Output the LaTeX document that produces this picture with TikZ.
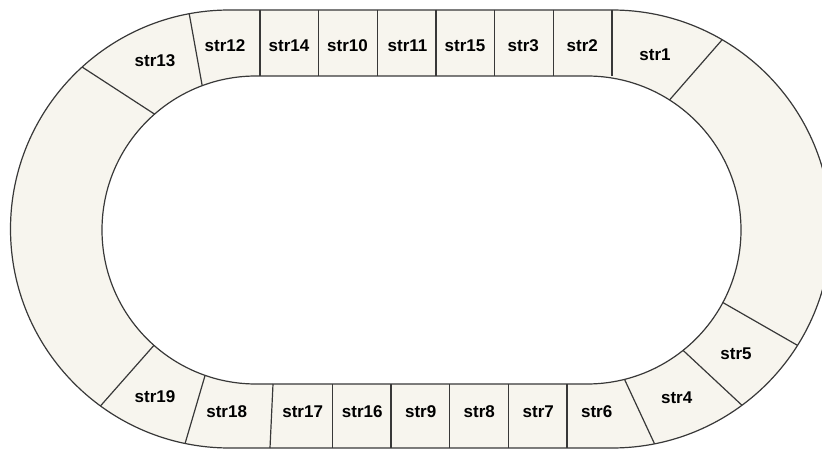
\documentclass[tikz,border=0pt]{standalone}
\usepackage{fontspec}
\setmainfont{Liberation Sans}
\usetikzlibrary{calc}
\definecolor{ringfill}{HTML}{F7F5EE}
\definecolor{ringline}{HTML}{383838}
\tikzset{
  ringedge/.style={draw=ringline, line width=1.2pt},
  divider/.style={draw=ringline, line width=1.2pt},
  seglabel/.style={font=\fontsize{17}{20}\selectfont\bfseries, text=black, inner sep=0pt}
}
\begin{document}
\begin{tikzpicture}[x=1pt,y=-1pt]
\useasboundingbox (0,0) rectangle (822,449);
\clip (0,0) rectangle (822,449);
% centres
\coordinate (OL) at (229.5,229);
\coordinate (OR) at (612,229);
\coordinate (IL) at (256,230);
\coordinate (IR) at (587,230);
% ring fill
\fill[ringfill, even odd rule]
  (229.5,10) -- (612,10) arc[start angle=-90,end angle=90,radius=219] -- (229.5,448) arc[start angle=90,end angle=270,radius=219] -- cycle
  (256,76) -- (587,76) arc[start angle=-90,end angle=90,radius=154] -- (256,384) arc[start angle=90,end angle=270,radius=154] -- cycle;
% outlines
\draw[ringedge] (229.5,10) -- (612,10) arc[start angle=-90,end angle=90,radius=219] -- (229.5,448) arc[start angle=90,end angle=270,radius=219] -- cycle;
\draw[ringedge] (256,76) -- (587,76) arc[start angle=-90,end angle=90,radius=154] -- (256,384) arc[start angle=90,end angle=270,radius=154] -- cycle;
% curved-part dividers
\coordinate (a1) at ($(OL)+(-100.6:219)$); \coordinate (b1) at ($(IL)+(-110.45:154)$);
\coordinate (a2) at ($(OL)+(-132.3:219)$); \coordinate (b2) at ($(IL)+(-131.2:154)$);
\coordinate (a3) at ($(OL)+(126.1:219)$);  \coordinate (b3) at ($(IL)+(131.5:154)$);
\coordinate (a4) at ($(OL)+(101.7:219)$);  \coordinate (b4) at ($(IL)+(109.3:154)$);
\coordinate (a5) at ($(OR)+(-59.8:219)$);  \coordinate (b5) at ($(IR)+(-57.6:154)$);
\coordinate (a6) at ($(OR)+(32.1:219)$);   \coordinate (b6) at ($(IR)+(28.1:154)$);
\coordinate (a7) at ($(OR)+(53.6:219)$);   \coordinate (b7) at ($(IR)+(51.4:154)$);
\coordinate (a8) at ($(OR)+(78.8:219)$);   \coordinate (b8) at ($(IR)+(75.9:154)$);
\foreach \i in {1,...,8} {\draw[divider] (a\i) -- (b\i);}
% top straight dividers
\foreach \x in {260,318.67,377.33,436,494.67,553.33,612} {
  \coordinate (tu) at (\x,10); \coordinate (td) at (\x,76);
  \draw[divider] (tu) -- (td);
}
% bottom straight dividers
\coordinate (bu0) at (273,384); \coordinate (bd0) at (270,448);
\draw[divider] (bu0) -- (bd0);
\foreach \x in {332.3,391,449.7,508.3,567} {
  \coordinate (bu) at (\x,384); \coordinate (bd) at (\x,448);
  \draw[divider] (bu) -- (bd);
}
% labels
\node[seglabel] (s13) at (155,60.7) {str13};
\node[seglabel] (s12) at (225,45.7) {str12};
\node[seglabel] (s14) at (289,45.7) {str14};
\node[seglabel] (s10) at (347.5,45.7) {str10};
\node[seglabel] (s11) at (407.5,45.7) {str11};
\node[seglabel] (s15) at (465,45.7) {str15};
\node[seglabel] (s3) at (523.3,45.7) {str3};
\node[seglabel] (s2) at (582.3,45.7) {str2};
\node[seglabel] (s1) at (655,54.3) {str1};
\node[seglabel] (s5) at (736,353.3) {str5};
\node[seglabel] (s4) at (676.7,397.3) {str4};
\node[seglabel] (s6) at (596.7,411.7) {str6};
\node[seglabel] (s7) at (538.3,411.7) {str7};
\node[seglabel] (s8) at (479.3,411.7) {str8};
\node[seglabel] (s9) at (420.7,411.7) {str9};
\node[seglabel] (s16) at (362.3,411.7) {str16};
\node[seglabel] (s17) at (302.7,411.7) {str17};
\node[seglabel] (s18) at (226.7,411.7) {str18};
\node[seglabel] (s19) at (155,396.7) {str19};
\end{tikzpicture}
\end{document}
